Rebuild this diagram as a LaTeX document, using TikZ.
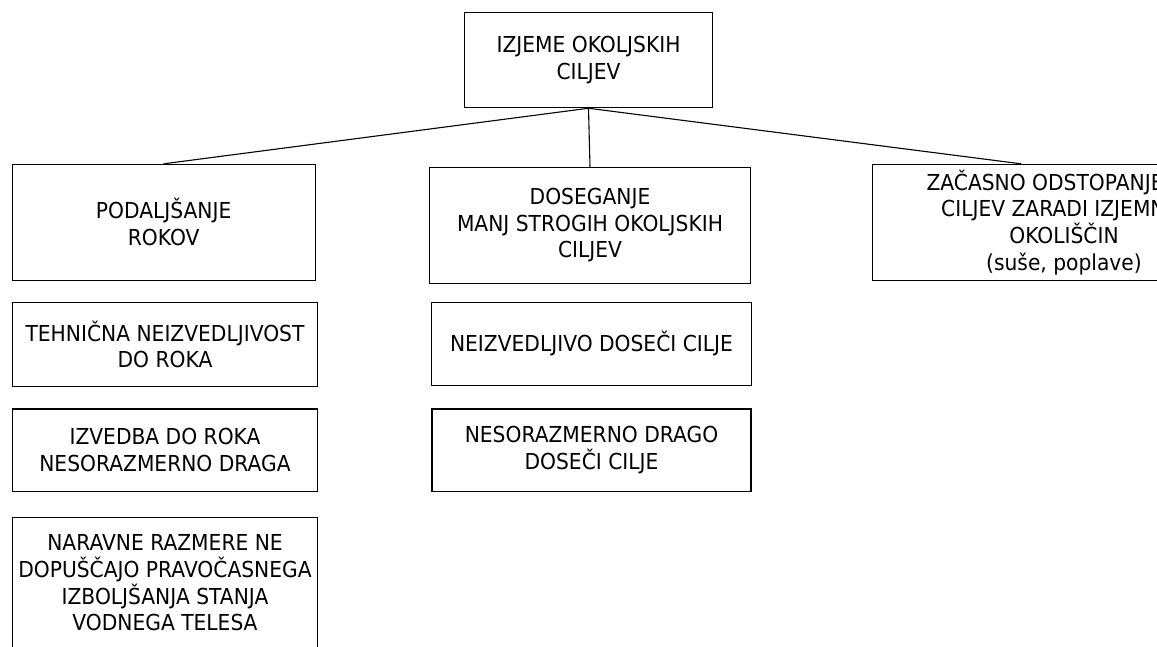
\documentclass[tikz,border=0pt]{standalone}
\usepackage{fontspec}
\setmainfont{DejaVu Sans}[FakeStretch=0.92]
\begin{document}
\begin{tikzpicture}[x=1pt,y=-1pt,
  box/.style={draw=black, line width=1.1pt, align=center, inner sep=0pt,
    font=\fontsize{22}{26.7}\selectfont},
  link/.style={draw=black, line width=1.1pt}]
\useasboundingbox (0,0) rectangle (1157,646);
\clip (0,0) rectangle (1157,646);
\node[box, minimum width=248.4pt, minimum height=95.4pt] (top) at (588.5,60) {IZJEME OKOLJSKIH\\CILJEV};
\node[box, minimum width=302.7pt, minimum height=115.7pt] (pod) at (163.7,222.2) {PODALJŠANJE\\ROKOV};
\node[box, minimum width=320.6pt, minimum height=116pt] (dos) at (590,225.3) {DOSEGANJE\\MANJ STROGIH OKOLJSKIH\\CILJEV};
\node[box, minimum width=383.7pt, minimum height=115.7pt] (zac) at (1064,222.2) {ZAČASNO ODSTOPANJE OD\\CILJEV ZARADI IZJEMNIH\\OKOLIŠČIN\\(suše, poplave)};
\node[box, minimum width=305.7pt, minimum height=84.4pt] (teh) at (165,344.5) {TEHNIČNA NEIZVEDLJIVOST\\DO ROKA};
\node[box, minimum width=320.4pt, minimum height=83pt] (neiz) at (591.5,343.8) {NEIZVEDLJIVO DOSEČI CILJE};
\node[box, minimum width=305.7pt, minimum height=82.7pt] (izv) at (165,450.3) {IZVEDBA DO ROKA\\NESORAZMERNO DRAGA};
\node[box, minimum width=319pt, minimum height=82.7pt] (nes) at (591.5,450.3) {NESORAZMERNO DRAGO\\DOSEČI CILJE};
\node[box, minimum width=305.7pt, minimum height=131pt] (nar) at (165,583) {NARAVNE RAZMERE NE\\DOPUŠČAJO PRAVOČASNEGA\\IZBOLJŠANJA STANJA\\VODNEGA TELESA};
\draw[link] (top.south) -- (pod.north);
\draw[link] (top.south) -- (dos.north);
\draw[link] (top.south) -- ([xshift=149.4pt]zac.north west);
\end{tikzpicture}
\end{document}
